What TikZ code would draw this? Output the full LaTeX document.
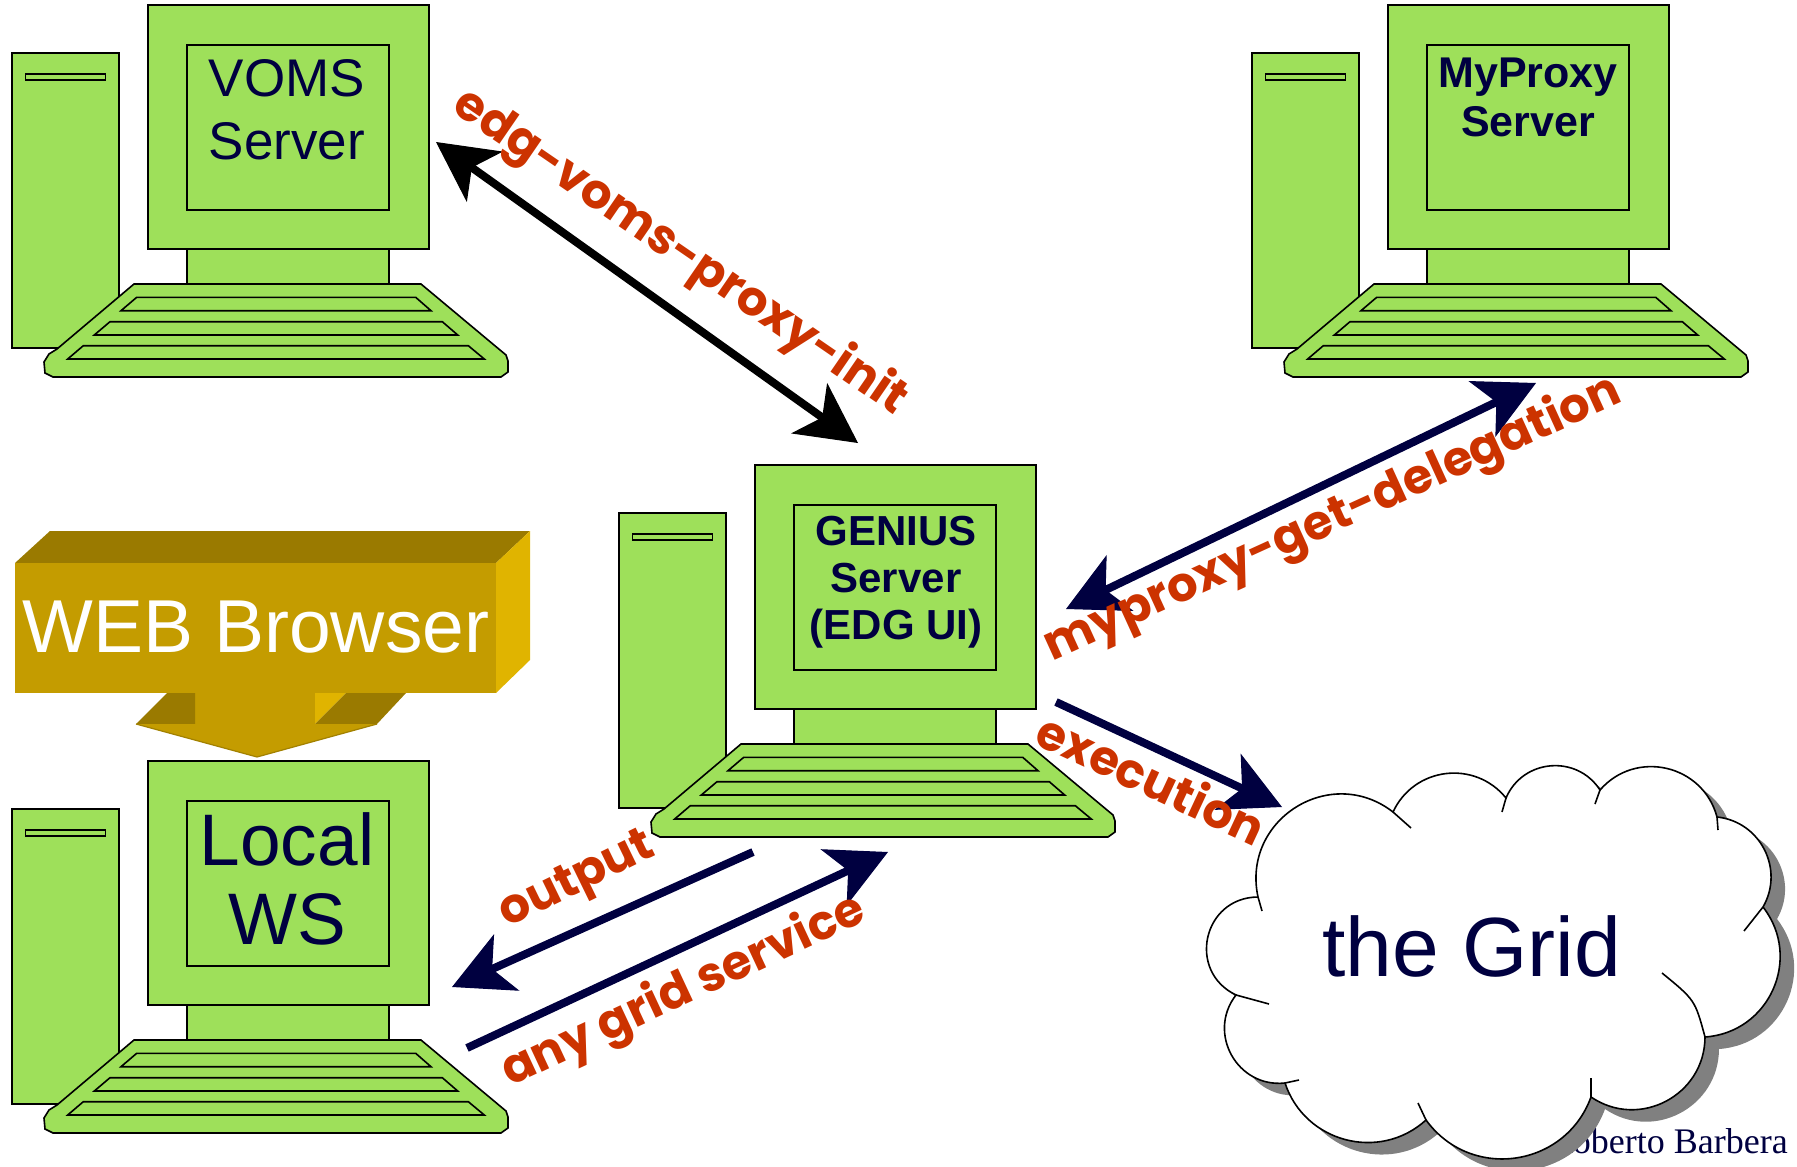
\documentclass[tikz,border=0pt]{standalone}
\usepackage{fontspec}
\setmainfont{Liberation Sans}
\newfontfamily\serifface{Liberation Serif}
\newfontfamily\handface{Poppins}
\usetikzlibrary{arrows.meta}

\definecolor{kitgreen}{HTML}{9EE05A}
\definecolor{navy}{HTML}{000040}
\definecolor{labelred}{HTML}{CC3300}
\definecolor{goldfront}{HTML}{C49C00}
\definecolor{golddark}{HTML}{9A7A00}
\definecolor{goldlight}{HTML}{E0B400}
\definecolor{shadowgrey}{HTML}{808080}

% outline of the cloud, traced bump by bump (clockwise)
\newcommand\gridcloudpath{%
  (1258,897) to[bend left=70,looseness=1.27] (1393,812)
  to[bend left=58,looseness=1.12] (1506,798)
  to[bend left=62,looseness=1.16] (1600,790)
  to[bend left=62,looseness=1.16] (1717,817)
  to[bend left=57,looseness=1.10] (1763,907)
  to[bend left=62,looseness=1.16] (1705,1037)
  to[bend left=62,looseness=1.16] (1591,1097)
  to[bend left=62,looseness=1.16] (1426,1120)
  to[bend left=57,looseness=1.10] (1285,1083)
  to[bend left=67,looseness=1.22] (1236,995)
  to[bend left=77,looseness=1.40] (1258,897) -- cycle}

\tikzset{
  kit/.style={fill=kitgreen, draw=black, line width=1.6pt, line join=miter},
  screentext/.style={anchor=north, align=center, inner sep=0pt, outer sep=0pt, text=navy},
  lbl/.style={inner sep=0pt, text=labelred, font=\handface\bfseries\fontsize{48}{48}\selectfont},
  flow/.style={line width=8pt},
  oneway/.style={flow, -{Stealth[length=60pt,width=62pt,inset=16pt,line width=1pt]}},
  twoway/.style={flow, {Stealth[length=60pt,width=62pt,inset=16pt,line width=1pt]}-{Stealth[length=60pt,width=62pt,inset=16pt,line width=1pt]}},
  cloudline/.style={draw=black, line width=1.6pt},
  pics/computer/.style={code={
    % tower with drive slot
    \filldraw[kit] (-136,48) rectangle (-29,343);
    \filldraw[kit] (-122.7,69) rectangle (-42.7,75);
    % monitor, screen and neck
    \filldraw[kit] (39,244) rectangle (241,279);
    \filldraw[kit] (0,0) rectangle (281,244);
    \filldraw[kit] (39,40) rectangle (241,205);
    % keyboard
    \filldraw[kit] (-14,279) -- (273,279) -- (352,345) -- (358,350) -- (360,356)
      -- (360,367) -- (353,372) -- (-95,372) -- (-103,368) -- (-104,357)
      -- (-99,349) -- (-91,344) -- cycle;
    \filldraw[kit] (-11.3,292.3) -- (267.7,292.3) -- (283,305.7) -- (-27,305.7) -- cycle;
    \filldraw[kit] (-38,316.7) -- (294.3,316.7) -- (309.7,330) -- (-53.7,330) -- cycle;
    \filldraw[kit] (-64.7,340.7) -- (320.3,340.7) -- (336.3,354) -- (-80.3,354) -- cycle;
    \coordinate (-screen) at (140,40);
  }}
}

\begin{document}
\begin{tikzpicture}[x=1pt, y=-1pt]
\useasboundingbox (0,0) rectangle (1797,1167);

% ---- computers
\pic (voms) at (148,5) {computer};
\pic (myproxy) at (1388,5) {computer};
\pic (genius) at (755,465) {computer};
\pic (localws) at (148,761) {computer};

\node[screentext, font=\fontsize{53}{63}\selectfont] (vomstext) at (287,59) {VOMS\\Server};
\node[screentext, font=\bfseries\fontsize{43}{49}\selectfont] (myproxytext) at (1528,58) {MyProxy\\Server};
\node[screentext, font=\bfseries\fontsize{42}{47}\selectfont] (geniustext) at (896,516) {GENIUS\\Server\\(EDG UI)};
\node[screentext, font=\fontsize{73}{79}\selectfont] (localtext) at (287,813) {Local\\WS};

% ---- 3-D block arrow of the web browser
\fill[golddark] (15,563) -- (50,531) -- (530,531) -- (496,563) -- cycle;
\fill[goldlight] (496,563) -- (530,531) -- (530,660) -- (496,693) -- cycle;
\fill[goldfront] (15,563) rectangle (496,693);
\fill[goldfront] (195,692) rectangle (315,725);
\fill[golddark] (136,724) -- (167,693) -- (195,693) -- (195,724) -- cycle;
\fill[goldlight] (315,693) -- (346,693) -- (315,724) -- cycle;
\fill[golddark] (346,693) -- (406,693) -- (377,724) -- (315,724) -- cycle;
\fill[goldfront] (136,724) -- (377,724) -- (257,757) -- cycle;
\draw[golddark!80!goldfront, line width=1.2pt] (136,724) -- (257,757) -- (377,724);
\node[anchor=base, inner sep=0pt, text=white, font=\fontsize{75}{75}\selectfont] (webtext) at (256,652) {WEB Browser};

% ---- signature, partly hidden by the cloud
\node[anchor=base east, inner sep=0pt, text=navy, font=\serifface\fontsize{36}{36}\selectfont] (author) at (1788,1153) {Roberto Barbera};

% ---- the Grid cloud with its drop shadow
\begin{scope}[shift={(14,12)}]
  \fill[shadowgrey] \gridcloudpath;
\end{scope}
\filldraw[fill=white, cloudline] \gridcloudpath;
\draw[cloudline] (1258,897) -- (1262,911);
\draw[cloudline] (1393,812) -- (1411,828);
\draw[cloudline] (1506,798) -- (1502,812);
\draw[cloudline] (1600,790) -- (1595,804);
\draw[cloudline] (1717,817) -- (1718,830);
\draw[cloudline] (1763,907) -- (1744,931);
\draw[cloudline] (1705,1037) .. controls (1695,1000) .. (1662,973);
\draw[cloudline] (1591,1097) -- (1591,1078);
\draw[cloudline] (1426,1120) -- (1418,1103);
\draw[cloudline] (1285,1083) -- (1299,1080);
\draw[cloudline] (1236,995) -- (1269,1004);
\node[anchor=base, inner sep=0pt, text=navy, font=\fontsize{84}{84}\selectfont] (gridtext) at (1472,976) {the Grid};

% ---- connector end points
\coordinate (edgA) at (436,142);
\coordinate (edgB) at (858,443);
\coordinate (mpA) at (1066,609);
\coordinate (mpB) at (1536,383);
\coordinate (exA) at (1056,702);
\coordinate (exB) at (1282,807);
\coordinate (outA) at (753,852);
\coordinate (outB) at (452,987);
\coordinate (anyA) at (467,1048);
\coordinate (anyB) at (888,852);

\draw[twoway, draw=black, fill=black] (edgA) -- (edgB);
\draw[twoway, draw=navy, fill=navy] (mpA) -- (mpB);
\draw[oneway, draw=navy, fill=navy] (exA) -- (exB);
\draw[oneway, draw=navy, fill=navy] (outA) -- (outB);
\draw[oneway, draw=navy, fill=navy] (anyA) -- (anyB);

% ---- command labels
\node[lbl, rotate=-34.5] (edglabel) at (680,253) {edg-voms-proxy-init};
\node[lbl, rotate=24.5] (mplabel) at (1333,520) {myproxy-get-delegation};
\node[lbl, rotate=-25] (exlabel) at (1152,778) {execution};
\node[lbl, rotate=26] (outlabel) at (578,882) {output};
\node[lbl, rotate=25] (anylabel) at (684,992) {any grid service};
\end{tikzpicture}
\end{document}
